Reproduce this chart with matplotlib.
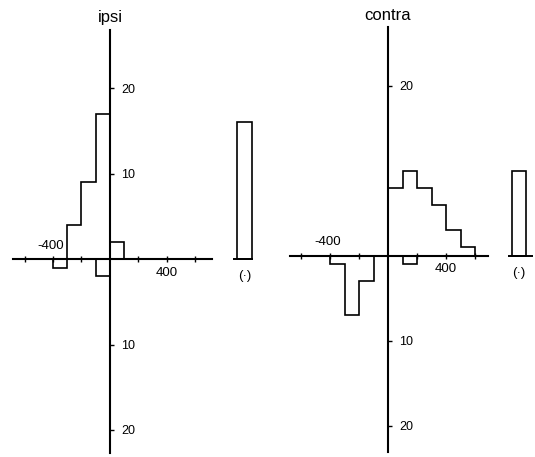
import numpy as np
import matplotlib
matplotlib.use("Agg")
import matplotlib.pyplot as plt
from matplotlib.ticker import FuncFormatter
import matplotlib.transforms as mtransforms

plt.rcParams['font.family'] = ['Liberation Sans', 'DejaVu Sans']

# latency bins (ms), 100 ms wide
edges = [-400, -300, -200, -100, 0, 100, 200, 300, 400, 500, 600]

# ipsi counts per bin: above axis / below axis
ipsi_up = [0, 4, 9, 17, 2, 0, 0, 0, 0, 0]
ipsi_down = [1, 0, 0, 2, 0, 0, 0, 0, 0, 0]
ipsi_dot = 16

# contra counts per bin
contra_up = [0, 0, 0, 0, 8, 10, 8, 6, 3, 1]
contra_down = [1, 7, 3, 0, 0, 1, 0, 0, 0, 0]
contra_dot = 10

xticks = [-600, -400, -200, 200, 400, 600]
ipsi_yticks = [-20, -10, 10, 20]
contra_yticks = [-20, -10, 20]

W, H = 535, 457
fig = plt.figure(figsize=(W / 100, H / 100), dpi=100)


def panel(left_px, right_px, zero_x, px100, zero_y, pxunit, up, down, dot,
          title, yticks, xspan, yspan, dot_x, dot_base):
    ax = fig.add_axes([left_px / W, 0, (right_px - left_px) / W, 1])
    ax.set_xlim((left_px - zero_x) / px100 * 100, (right_px - zero_x) / px100 * 100)
    ax.set_ylim(-(H - zero_y) / pxunit, zero_y / pxunit)

    ax.stairs(up, edges, color='black', lw=1.2)
    ax.stairs([-v for v in down], edges, color='black', lw=1.2)

    # separate bar for the (·) trials with its own baseline
    ax.bar(dot_x, dot, width=100, fill=False, edgecolor='black', lw=1.2)
    ax.plot(dot_base, [0, 0], color='black', lw=1.4, solid_capstyle='butt')
    ax.text(dot_x, -2.0, '(·)', ha='center', va='center', fontsize=9.5)

    for s in ['top', 'left']:
        ax.spines[s].set_visible(False)
    ax.spines['right'].set_position(('data', 0))
    ax.spines['bottom'].set_position(('data', 0))
    ax.spines['right'].set_bounds(*yspan)
    ax.spines['bottom'].set_bounds(*xspan)
    for s in ['right', 'bottom']:
        ax.spines[s].set_linewidth(1.5)

    ax.yaxis.tick_right()
    ax.set_yticks(yticks)
    ax.yaxis.set_major_formatter(FuncFormatter(lambda v, p: f"{abs(v):.0f}"))
    ax.tick_params(axis='y', direction='out', length=3, width=1, pad=5, labelsize=9)

    ax.set_xticks(xticks)
    ax.set_xticklabels(['', '-400', '', '', '400', ''])
    ax.tick_params(axis='x', direction='inout', length=5, width=1, pad=3, labelsize=9.5)
    # the negative label sits above the axis
    lab = ax.get_xticklabels()[1]
    lab.set_transform(lab.get_transform() +
                      mtransforms.ScaledTranslation(-0.02, 0.27, fig.dpi_scale_trans))

    ax.text(0, 28.2, title, ha='center', va='center', fontsize=12)
    ax.patch.set_visible(False)
    return ax


panel(0, 267, 110, 14.25, 259, 8.55, ipsi_up, ipsi_down, ipsi_dot, 'ipsi',
      ipsi_yticks, (-681, 716), (-22.7, 26.8), 944, [863, 1004])
panel(268, 535, 388, 14.5, 255.7, 8.5, contra_up, contra_down, contra_dot, 'contra',
      contra_yticks, (-676, 690), (-23.1, 26.9), 905, [828, 1000])

fig.savefig('out.png', dpi=100)
